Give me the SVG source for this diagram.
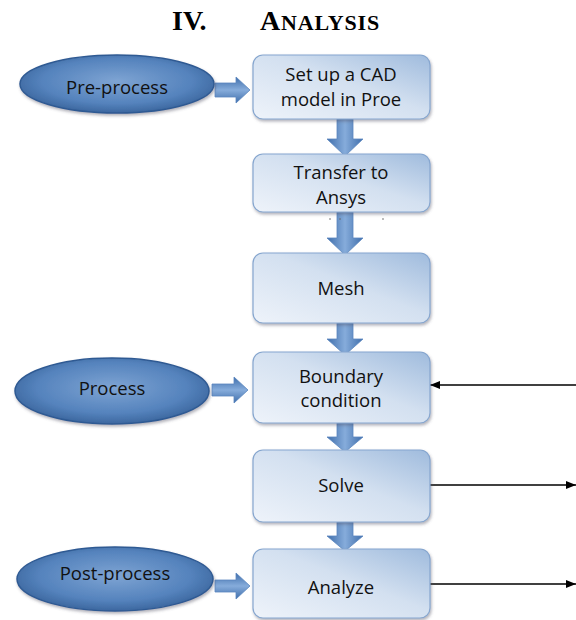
<svg xmlns="http://www.w3.org/2000/svg" width="576" height="620" viewBox="0 0 576 620">
<defs>
<linearGradient id="boxg" x1="0" y1="1" x2="1" y2="0">
<stop offset="0" stop-color="#eef3fa"/>
<stop offset="0.55" stop-color="#d3e0f0"/>
<stop offset="1" stop-color="#9fbbdd"/>
</linearGradient>
<radialGradient id="ellg" cx="0.5" cy="0.45" r="0.55">
<stop offset="0" stop-color="#7ea4d3"/>
<stop offset="0.7" stop-color="#5583bd"/>
<stop offset="1" stop-color="#3c679f"/>
</radialGradient>
<linearGradient id="darrg" x1="0" y1="0" x2="1" y2="0">
<stop offset="0" stop-color="#3f6eab"/>
<stop offset="0.5" stop-color="#86acdb"/>
<stop offset="1" stop-color="#3f6eab"/>
</linearGradient>
<linearGradient id="rarrg" x1="0" y1="0" x2="0" y2="1">
<stop offset="0" stop-color="#3f6eab"/>
<stop offset="0.5" stop-color="#86acdb"/>
<stop offset="1" stop-color="#3f6eab"/>
</linearGradient>
<filter id="sh" x="-10%" y="-10%" width="125%" height="130%">
<feDropShadow dx="1" dy="2" stdDeviation="1.5" flood-color="#556" flood-opacity="0.45"/>
</filter>
<marker id="ah" viewBox="0 0 10 10" refX="10" refY="5" markerWidth="10" markerHeight="10" markerUnits="userSpaceOnUse" orient="auto">
<path d="M0,1 L10,5 L0,9 Z" fill="#000"/>
</marker>
<style>
.box{fill:url(#boxg);stroke:#86a6cf;stroke-width:1.2;filter:url(#sh)}
.ell{fill:url(#ellg);stroke:#2f5a93;stroke-width:1.5;filter:url(#sh)}
.t{font-family:"Open Sans","Liberation Sans",sans-serif;font-size:18.5px;fill:#111;text-anchor:middle}
.darr{fill:url(#darrg);stroke:#5a86bf;stroke-width:0.8}
.rarr{fill:url(#rarrg);stroke:#5a86bf;stroke-width:0.8}
.ln{stroke:#000;stroke-width:1.4;fill:none}
.title{font-family:"Liberation Serif","Times New Roman",serif;font-weight:bold;fill:#000}
</style>
</defs>
<rect width="576" height="620" fill="#fff"/>
<text class="title" x="172" y="30" font-size="28">IV.</text>
<text class="title" x="260" y="30" font-size="28" letter-spacing="0.8">A<tspan font-size="22">NALYSIS</tspan></text>

<g id="connectors">
<path class="darr" d="M337,119 H353 V139 H363 L345,156 L327,139 H337 Z"/>
<path class="darr" d="M337,212 H353 V238 H363 L345,255 L327,238 H337 Z"/>
<path class="darr" d="M337,323 H353 V339 H363 L345,355 L327,339 H337 Z"/>
<path class="darr" d="M337,423 H353 V437 H363 L345,452 L327,437 H337 Z"/>
<path class="darr" d="M337,522 H353 V536 H363 L345,551 L327,536 H337 Z"/>
<path class="rarr" d="M215,83 H236 V77 L250,90 L236,103 V97 H215 Z"/>
<path class="rarr" d="M212,384 H234 V377 L248,390 L234,403 V396 H212 Z"/>
<path class="rarr" d="M215,580 H236 V573 L250,586 L236,599 V592 H215 Z"/>
<line class="ln" x1="576" y1="385" x2="430" y2="385" marker-end="url(#ah)"/>
<line class="ln" x1="430" y1="485" x2="576" y2="485" marker-end="url(#ah)"/>
<line class="ln" x1="430" y1="584" x2="576" y2="584" marker-end="url(#ah)"/>
</g>

<g id="preprocess">
<ellipse class="ell" cx="117" cy="84" rx="97" ry="29"/>
<text class="t" x="117" y="94">Pre-process</text>
</g>
<g id="process">
<ellipse class="ell" cx="112" cy="391" rx="97" ry="33"/>
<text class="t" x="112" y="395">Process</text>
</g>
<g id="postprocess">
<ellipse class="ell" cx="115" cy="579" rx="98" ry="32"/>
<text class="t" x="115" y="580">Post-process</text>
</g>

<g id="cad">
<rect class="box" x="253" y="55" width="177" height="64" rx="10"/>
<text class="t" x="341" y="81">Set up a CAD</text>
<text class="t" x="341" y="106">model in Proe</text>
</g>
<g id="transfer">
<rect class="box" x="253" y="154" width="177" height="58" rx="10"/>
<text class="t" x="341" y="179">Transfer to</text>
<text class="t" x="341" y="204">Ansys</text>
<circle cx="330" cy="219" r="0.8" fill="#666"/>
<circle cx="340" cy="219" r="0.8" fill="#666"/>
<circle cx="383" cy="219" r="0.8" fill="#666"/>
</g>
<g id="mesh">
<rect class="box" x="253" y="253" width="177" height="70" rx="10"/>
<text class="t" x="341" y="295">Mesh</text>
</g>
<g id="boundary">
<rect class="box" x="253" y="352" width="177" height="71" rx="10"/>
<text class="t" x="341" y="383">Boundary</text>
<text class="t" x="341" y="407">condition</text>
</g>
<g id="solve">
<rect class="box" x="253" y="450" width="177" height="72" rx="10"/>
<text class="t" x="341" y="492">Solve</text>
</g>
<g id="analyze">
<rect class="box" x="253" y="549" width="177" height="69" rx="10"/>
<text class="t" x="341" y="594">Analyze</text>
</g>
</svg>
